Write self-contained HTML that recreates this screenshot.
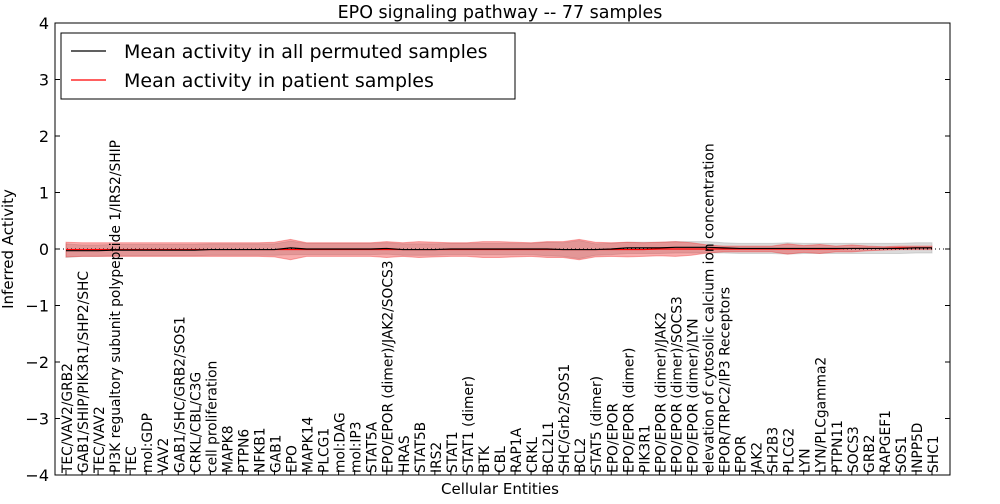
<!DOCTYPE html>
<html><head><meta charset="utf-8"><style>
body{margin:0;background:#fff;width:1000px;height:500px;overflow:hidden;font-family:"DejaVu Sans","Liberation Sans",sans-serif}
svg text{font-family:"DejaVu Sans","Liberation Sans",sans-serif}
</style></head><body>
<svg id="chart" width="1000" height="500" xmlns="http://www.w3.org/2000/svg"></svg>
<script>
const categories=["TEC/VAV2/GRB2","GAB1/SHIP/PIK3R1/SHP2/SHC","TEC/VAV2","PI3K regualtory subunit polypeptide 1/IRS2/SHIP","TEC","mol:GDP","VAV2","GAB1/SHC/GRB2/SOS1","CRKL/CBL/C3G","cell proliferation","MAPK8","PTPN6","NFKB1","GAB1","EPO","MAPK14","PLCG1","mol:DAG","mol:IP3","STAT5A","EPO/EPOR (dimer)/JAK2/SOCS3","HRAS","STAT5B","IRS2","STAT1","STAT1 (dimer)","BTK","CBL","RAP1A","CRKL","BCL2L1","SHC/Grb2/SOS1","BCL2","STAT5 (dimer)","EPO/EPOR","EPO/EPOR (dimer)","PIK3R1","EPO/EPOR (dimer)/JAK2","EPO/EPOR (dimer)/SOCS3","EPO/EPOR (dimer)/LYN","elevation of cytosolic calcium ion concentration","EPOR/TRPC2/IP3 Receptors","EPOR","JAK2","SH2B3","PLCG2","LYN","LYN/PLCgamma2","PTPN11","SOCS3","GRB2","RAPGEF1","SOS1","INPP5D","SHC1"];
const permMean=[-0.03,-0.03,-0.03,-0.02,-0.02,-0.02,-0.02,-0.02,-0.02,-0.01,-0.01,-0.01,-0.01,-0.01,0.02,0.0,0.0,0.0,0.0,0.0,0.01,-0.01,-0.01,-0.01,0.0,0.0,0.0,0.0,0.0,0.0,0.0,-0.01,-0.01,-0.01,0.0,0.02,0.02,0.02,0.03,0.03,0.03,0.02,0.01,0.01,0.01,0.01,0.01,0.01,0.01,0.01,0.01,0.01,0.01,0.02,0.02];
const patientMean=[-0.01,-0.01,-0.01,-0.01,-0.01,-0.01,-0.01,-0.01,-0.01,-0.01,-0.01,-0.01,-0.01,-0.01,-0.01,-0.01,-0.01,-0.01,-0.01,-0.01,-0.01,-0.01,-0.01,-0.01,-0.01,-0.01,-0.01,-0.01,-0.01,-0.01,-0.01,-0.01,-0.01,-0.01,-0.01,-0.01,-0.01,0.0,0.0,0.0,0.0,0.0,0.0,0.0,0.0,0.0,0.0,0.0,0.0,0.01,0.01,0.01,0.02,0.02,0.02];
const patientSpread=[0.13,0.12,0.12,0.12,0.12,0.12,0.12,0.12,0.12,0.12,0.12,0.12,0.12,0.13,0.18,0.12,0.12,0.12,0.12,0.12,0.14,0.12,0.14,0.13,0.12,0.12,0.14,0.14,0.13,0.12,0.14,0.14,0.18,0.13,0.12,0.13,0.12,0.12,0.13,0.11,0.07,0.05,0.05,0.05,0.05,0.09,0.06,0.08,0.05,0.06,0.04,0.03,0.03,0.03,0.03];
const permSpread=[0.12,0.1,0.1,0.1,0.1,0.1,0.1,0.1,0.1,0.1,0.1,0.1,0.1,0.1,0.12,0.1,0.1,0.1,0.1,0.1,0.1,0.1,0.1,0.1,0.1,0.1,0.1,0.1,0.1,0.1,0.12,0.12,0.16,0.1,0.1,0.1,0.1,0.1,0.1,0.1,0.1,0.09,0.09,0.09,0.09,0.1,0.09,0.09,0.09,0.09,0.09,0.09,0.09,0.09,0.09];
const yTicks=[-4,-3,-2,-1,0,1,2,3,4];
const yTickLabels=["\u22124","\u22123","\u22122","\u22121","0","1","2","3","4"];

const L=55,R=950,T=23,B=475;
const X=i=>66+i*(932-66)/(categories.length-1);
const Y=v=>249-v*(B-T)/8;
const svg=document.getElementById('chart');
const NS='http://www.w3.org/2000/svg';
function mk(tag,attrs,parent){const e=document.createElementNS(NS,tag);for(const k in attrs)e.setAttribute(k,attrs[k]);(parent||svg).appendChild(e);return e;}
function band(mean,spread,fill,op,name){
  let d='M'+mean.map((m,i)=>X(i)+','+Y(m+spread[i])).join('L')+'L'+mean.map((m,i)=>[i,m]).reverse().map(([i,m])=>X(i)+','+Y(m-spread[i])).join('L')+'Z';
  const p=mk('path',{d:d,fill:fill,'fill-opacity':op,stroke:fill,'stroke-opacity':op});
  
  
}
band(permMean,permSpread,'#999',0.35,'permuted-band');
band(patientMean,patientSpread,'#f03030',0.4,'patient-band');
const t=mk('text',{x:500,y:18,'font-size':17.5,'text-anchor':'middle'});t.textContent='EPO signaling pathway -- 77 samples';

const z=mk('line',{x1:L,x2:R,y1:Y(0),y2:Y(0),stroke:'#000','stroke-dasharray':'1,3','stroke-width':1});

function line(arr,color,name){const p=mk('polyline',{points:arr.map((v,i)=>X(i)+','+Y(v)).join(' '),fill:'none',stroke:color,'stroke-width':1.2});
}
line(patientMean,'#f00','patient-mean-line');
line(permMean,'#000','permuted-mean-line');
const frame=mk('rect',{x:L,y:T,width:R-L,height:B-T,fill:'none',stroke:'#000'});

yTicks.forEach((v,i)=>{
  mk('line',{x1:L,x2:L+5,y1:Y(v),y2:Y(v),stroke:'#000'});mk('line',{x1:R,x2:R-5,y1:Y(v),y2:Y(v),stroke:'#000'});
  const tl=mk('text',{x:L-6,y:Y(v)+6,'font-size':16,'text-anchor':'end'});tl.textContent=yTickLabels[i];
  
});
categories.forEach((c,i)=>{
  mk('line',{x1:X(i),x2:X(i),y1:B,y2:B-5,stroke:'#000'});
  const tx=mk('text',{x:0,y:0,'font-size':13.8,transform:`translate(${X(i)+6},${B-2}) rotate(-90)`});tx.textContent=c;
  
});
const xl=mk('text',{x:500,y:494,'font-size':15,'text-anchor':'middle'});xl.textContent='Cellular Entities';

const yl=mk('text',{x:0,y:0,'font-size':15,'text-anchor':'middle',transform:'translate(13,249) rotate(-90)'});yl.textContent='Inferred Activity';

const lg=mk('g',{});
mk('rect',{x:61,y:33,width:454,height:66,fill:'#fff',stroke:'#000'},lg);
mk('line',{x1:71,x2:106,y1:51,y2:51,stroke:'#000','stroke-width':1.2},lg);
mk('line',{x1:71,x2:106,y1:80,y2:80,stroke:'#f00','stroke-width':1.2},lg);
const l1=mk('text',{x:124,y:58,'font-size':19},lg);l1.textContent='Mean activity in all permuted samples';

const l2=mk('text',{x:124,y:87,'font-size':19},lg);l2.textContent='Mean activity in patient samples';

</script>
</body></html>
